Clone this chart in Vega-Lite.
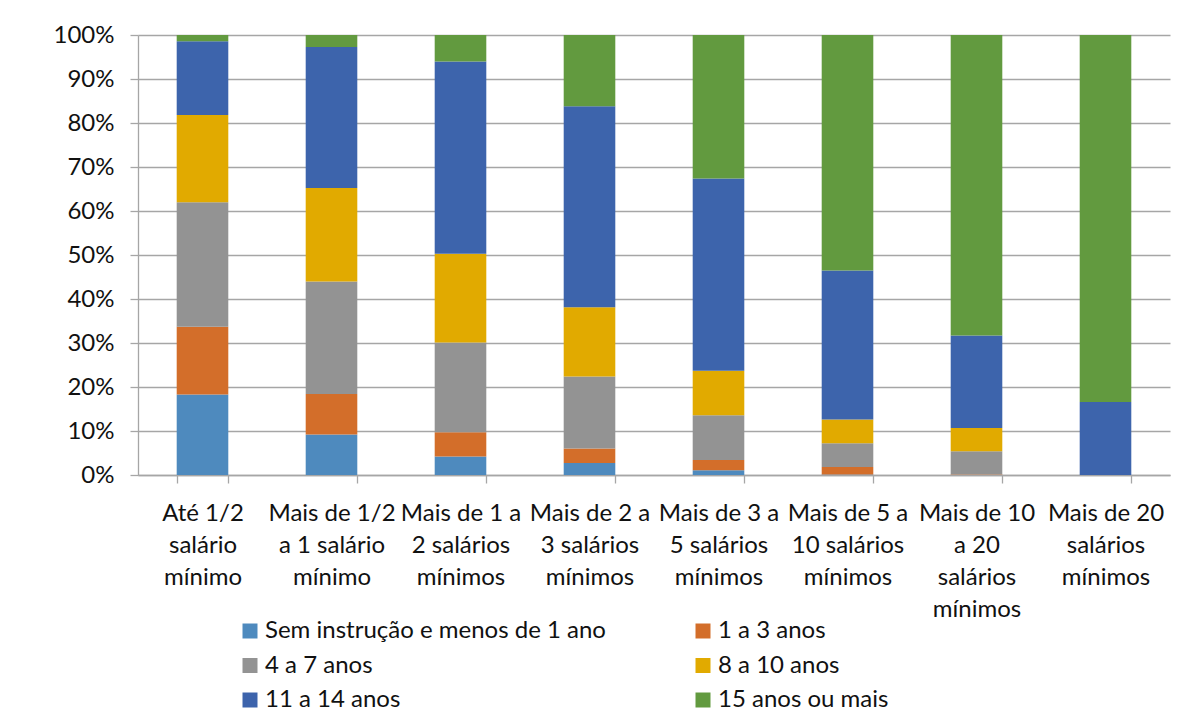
{
  "$schema": "https://vega.github.io/schema/vega-lite/v6.json",
  "width": 1032,
  "height": 440,
  "autosize": {"type": "none"},
  "padding": {"left": 138, "top": 35, "right": 27, "bottom": 243},
  "background": "white",
  "config": {
    "view": {"stroke": null},
    "font": "Lato",
    "axis": {"labelFont": "Lato", "labelColor": "#111111"},
    "legend": {"labelFont": "Lato", "labelColor": "#111111"}
  },
  "data": {
    "values": [
      {"faixa": "Até 1/2 salário mínimo", "escolaridade": "Sem instrução e menos de 1 ano", "pct": 18.3},
      {"faixa": "Até 1/2 salário mínimo", "escolaridade": "1 a 3 anos", "pct": 15.4},
      {"faixa": "Até 1/2 salário mínimo", "escolaridade": "4 a 7 anos", "pct": 28.3},
      {"faixa": "Até 1/2 salário mínimo", "escolaridade": "8 a 10 anos", "pct": 19.8},
      {"faixa": "Até 1/2 salário mínimo", "escolaridade": "11 a 14 anos", "pct": 16.8},
      {"faixa": "Até 1/2 salário mínimo", "escolaridade": "15 anos ou mais", "pct": 1.4},
      {"faixa": "Mais de 1/2 a 1 salário mínimo", "escolaridade": "Sem instrução e menos de 1 ano", "pct": 9.2},
      {"faixa": "Mais de 1/2 a 1 salário mínimo", "escolaridade": "1 a 3 anos", "pct": 9.2},
      {"faixa": "Mais de 1/2 a 1 salário mínimo", "escolaridade": "4 a 7 anos", "pct": 25.6},
      {"faixa": "Mais de 1/2 a 1 salário mínimo", "escolaridade": "8 a 10 anos", "pct": 21.2},
      {"faixa": "Mais de 1/2 a 1 salário mínimo", "escolaridade": "11 a 14 anos", "pct": 32.1},
      {"faixa": "Mais de 1/2 a 1 salário mínimo", "escolaridade": "15 anos ou mais", "pct": 2.7},
      {"faixa": "Mais de 1 a 2 salários mínimos", "escolaridade": "Sem instrução e menos de 1 ano", "pct": 4.2},
      {"faixa": "Mais de 1 a 2 salários mínimos", "escolaridade": "1 a 3 anos", "pct": 5.5},
      {"faixa": "Mais de 1 a 2 salários mínimos", "escolaridade": "4 a 7 anos", "pct": 20.4},
      {"faixa": "Mais de 1 a 2 salários mínimos", "escolaridade": "8 a 10 anos", "pct": 20.2},
      {"faixa": "Mais de 1 a 2 salários mínimos", "escolaridade": "11 a 14 anos", "pct": 43.7},
      {"faixa": "Mais de 1 a 2 salários mínimos", "escolaridade": "15 anos ou mais", "pct": 6.0},
      {"faixa": "Mais de 2 a 3 salários mínimos", "escolaridade": "Sem instrução e menos de 1 ano", "pct": 2.7},
      {"faixa": "Mais de 2 a 3 salários mínimos", "escolaridade": "1 a 3 anos", "pct": 3.3},
      {"faixa": "Mais de 2 a 3 salários mínimos", "escolaridade": "4 a 7 anos", "pct": 16.4},
      {"faixa": "Mais de 2 a 3 salários mínimos", "escolaridade": "8 a 10 anos", "pct": 15.7},
      {"faixa": "Mais de 2 a 3 salários mínimos", "escolaridade": "11 a 14 anos", "pct": 45.7},
      {"faixa": "Mais de 2 a 3 salários mínimos", "escolaridade": "15 anos ou mais", "pct": 16.2},
      {"faixa": "Mais de 3 a 5 salários mínimos", "escolaridade": "Sem instrução e menos de 1 ano", "pct": 1.1},
      {"faixa": "Mais de 3 a 5 salários mínimos", "escolaridade": "1 a 3 anos", "pct": 2.3},
      {"faixa": "Mais de 3 a 5 salários mínimos", "escolaridade": "4 a 7 anos", "pct": 10.2},
      {"faixa": "Mais de 3 a 5 salários mínimos", "escolaridade": "8 a 10 anos", "pct": 10.1},
      {"faixa": "Mais de 3 a 5 salários mínimos", "escolaridade": "11 a 14 anos", "pct": 43.7},
      {"faixa": "Mais de 3 a 5 salários mínimos", "escolaridade": "15 anos ou mais", "pct": 32.6},
      {"faixa": "Mais de 5 a 10 salários mínimos", "escolaridade": "Sem instrução e menos de 1 ano", "pct": 0.1},
      {"faixa": "Mais de 5 a 10 salários mínimos", "escolaridade": "1 a 3 anos", "pct": 1.7},
      {"faixa": "Mais de 5 a 10 salários mínimos", "escolaridade": "4 a 7 anos", "pct": 5.4},
      {"faixa": "Mais de 5 a 10 salários mínimos", "escolaridade": "8 a 10 anos", "pct": 5.4},
      {"faixa": "Mais de 5 a 10 salários mínimos", "escolaridade": "11 a 14 anos", "pct": 33.9},
      {"faixa": "Mais de 5 a 10 salários mínimos", "escolaridade": "15 anos ou mais", "pct": 53.5},
      {"faixa": "Mais de 10 a 20 salários mínimos", "escolaridade": "Sem instrução e menos de 1 ano", "pct": 0.0},
      {"faixa": "Mais de 10 a 20 salários mínimos", "escolaridade": "1 a 3 anos", "pct": 0.1},
      {"faixa": "Mais de 10 a 20 salários mínimos", "escolaridade": "4 a 7 anos", "pct": 5.3},
      {"faixa": "Mais de 10 a 20 salários mínimos", "escolaridade": "8 a 10 anos", "pct": 5.3},
      {"faixa": "Mais de 10 a 20 salários mínimos", "escolaridade": "11 a 14 anos", "pct": 21.0},
      {"faixa": "Mais de 10 a 20 salários mínimos", "escolaridade": "15 anos ou mais", "pct": 68.3},
      {"faixa": "Mais de 20 salários mínimos", "escolaridade": "Sem instrução e menos de 1 ano", "pct": 0.0},
      {"faixa": "Mais de 20 salários mínimos", "escolaridade": "1 a 3 anos", "pct": 0.0},
      {"faixa": "Mais de 20 salários mínimos", "escolaridade": "4 a 7 anos", "pct": 0.0},
      {"faixa": "Mais de 20 salários mínimos", "escolaridade": "8 a 10 anos", "pct": 0.0},
      {"faixa": "Mais de 20 salários mínimos", "escolaridade": "11 a 14 anos", "pct": 16.6},
      {"faixa": "Mais de 20 salários mínimos", "escolaridade": "15 anos ou mais", "pct": 83.4}
    ]
  },
  "transform": [
    {"calculate": "indexof(['Sem instrução e menos de 1 ano', '1 a 3 anos', '4 a 7 anos', '8 a 10 anos', '11 a 14 anos', '15 anos ou mais'], datum.escolaridade)", "as": "ordem"}
  ],
  "mark": {"type": "bar"},
  "encoding": {
    "x": {
      "field": "faixa",
      "type": "nominal",
      "sort": [
        "Até 1/2 salário mínimo",
        "Mais de 1/2 a 1 salário mínimo",
        "Mais de 1 a 2 salários mínimos",
        "Mais de 2 a 3 salários mínimos",
        "Mais de 3 a 5 salários mínimos",
        "Mais de 5 a 10 salários mínimos",
        "Mais de 10 a 20 salários mínimos",
        "Mais de 20 salários mínimos"
      ],
      "scale": {"paddingInner": 0.6, "paddingOuter": 0.3},
      "axis": {
        "title": null,
        "labelAngle": 0,
        "tickBand": "extent",
        "tickSize": 8,
        "tickColor": "#a6a6a6",
        "tickWidth": 1.3,
        "domainColor": "#a6a6a6",
        "domainWidth": 1.3,
        "labelFontSize": 24,
        "labelLineHeight": 32,
        "labelPadding": 18,
        "labelLimit": 300,
        "labelExpr": "{'Até 1/2 salário mínimo': ['Até 1/2', 'salário', 'mínimo'], 'Mais de 1/2 a 1 salário mínimo': ['Mais de 1/2', 'a 1 salário', 'mínimo'], 'Mais de 1 a 2 salários mínimos': ['Mais de 1 a', '2 salários', 'mínimos'], 'Mais de 2 a 3 salários mínimos': ['Mais de 2 a', '3 salários', 'mínimos'], 'Mais de 3 a 5 salários mínimos': ['Mais de 3 a', '5 salários', 'mínimos'], 'Mais de 5 a 10 salários mínimos': ['Mais de 5 a', '10 salários', 'mínimos'], 'Mais de 10 a 20 salários mínimos': ['Mais de 10', 'a 20', 'salários', 'mínimos'], 'Mais de 20 salários mínimos': ['Mais de 20', 'salários', 'mínimos']}[datum.value]"
      }
    },
    "y": {
      "field": "pct",
      "type": "quantitative",
      "stack": "normalize",
      "scale": {"domain": [0, 1], "nice": false},
      "axis": {
        "title": null,
        "values": [0, 0.1, 0.2, 0.3, 0.4, 0.5, 0.6, 0.7, 0.8, 0.9, 1],
        "format": ".0%",
        "grid": true,
        "gridColor": "#a6a6a6",
        "gridWidth": 1.3,
        "domainColor": "#a6a6a6",
        "domainWidth": 1.3,
        "tickColor": "#a6a6a6",
        "tickWidth": 1.3,
        "tickSize": 8,
        "labelFontSize": 24,
        "labelPadding": 16
      }
    },
    "order": {"field": "ordem", "type": "quantitative", "sort": "ascending"},
    "color": {
      "field": "escolaridade",
      "type": "nominal",
      "sort": ["Sem instrução e menos de 1 ano", "1 a 3 anos", "4 a 7 anos", "8 a 10 anos", "11 a 14 anos", "15 anos ou mais"],
      "scale": {
        "domain": ["Sem instrução e menos de 1 ano", "1 a 3 anos", "4 a 7 anos", "8 a 10 anos", "11 a 14 anos", "15 anos ou mais"],
        "range": ["#4E8ABE", "#D36E2A", "#939393", "#E1AA00", "#3D64AC", "#629A3F"]
      },
      "legend": {
        "title": null,
        "orient": "none",
        "legendX": 100,
        "legendY": 584,
        "direction": "horizontal",
        "columns": 2,
        "symbolType": "square",
        "symbolSize": 225,
        "symbolStrokeWidth": 0,
        "labelFontSize": 24,
        "labelOffset": 3,
        "labelLimit": 500,
        "rowPadding": 10.5,
        "columnPadding": 85,
        "padding": 0
      }
    }
  }
}
